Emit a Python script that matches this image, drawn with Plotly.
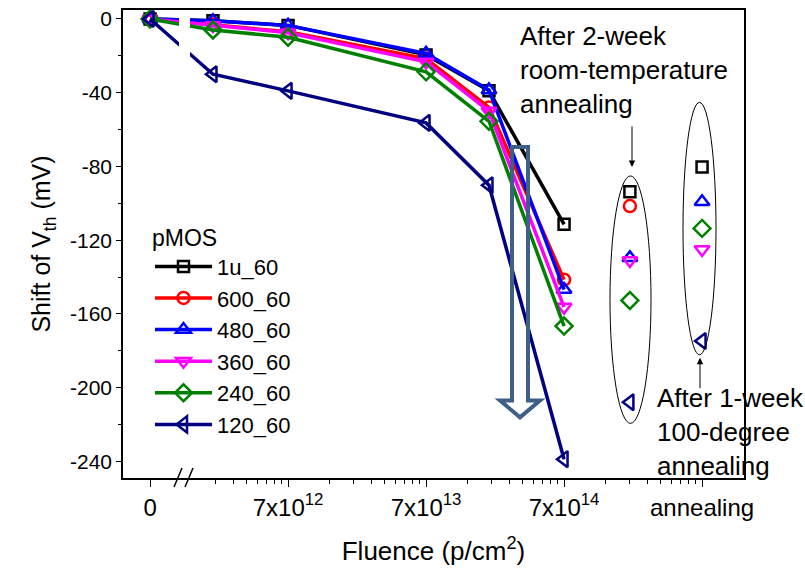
import plotly.graph_objects as go

# ---------------- data ----------------
# x positions on the log fluence axis; the first entry (7e11) is where the
# axis-broken "0" fluence point is drawn
fluence = [7e11, 2e12, 7e12, 7e13, 2e14, 7e14]
anneal_pos = [2.1e15, 7e15]  # "annealing" column positions

series_names = ["1u_60", "600_60", "480_60", "360_60", "240_60", "120_60"]
s_1u_60 = [0, -1.0, -3.5, -19.5, -39.0, -111.4]
s_600_60 = [0, -3.0, -7.0, -21.5, -48.0, -141.4]
s_480_60 = [0, -1.0, -3.5, -18.7, -38.5, -146.8]
s_360_60 = [0, -3.5, -7.5, -23.3, -50.0, -156.3]
s_240_60 = [0, -6.0, -9.9, -28.7, -55.5, -166.6]
s_120_60 = [0, -30.0, -39.0, -56.4, -90.2, -238.8]

# after 2-week room-temperature annealing, after 1-week 100-degree annealing
a_1u_60 = [-93.8, -80.3]
a_600_60 = [-101.5, None]
a_480_60 = [-129.5, -99.2]
a_360_60 = [-131.0, -125.0]
a_240_60 = [-152.7, -113.6]
a_120_60 = [-207.9, -174.7]

x_tickvals = [7e11, 7e12, 7e13, 7e14, 7e15]
x_ticktext = ["0", "7x10<sup>12</sup>", "7x10<sup>13</sup>", "7x10<sup>14</sup>", "annealing"]
y_tickvals = [0, -40, -80, -120, -160, -200, -240]
y_ticktext = ["0", "-40", "-80", "-120", "-160", "-200", "-240"]

colors = ["#000000", "#FF0000", "#0000FF", "#FF00FF", "#008000", "#000080"]
symbols = ["square-open", "circle-open", "triangle-up-open", "triangle-down-open",
           "diamond-open", "triangle-left-open"]
marker_sizes = [11, 12, 13, 13, 13, 14]

main_vals = [s_1u_60, s_600_60, s_480_60, s_360_60, s_240_60, s_120_60]
ann_vals = [a_1u_60, a_600_60, a_480_60, a_360_60, a_240_60, a_120_60]

# ---------------- geometry helpers (plot area in pixels) ----------------
L, R, T, B = 123, 744, 7, 478


def px(x):
    return (x - L) / (R - L)


def py(y):
    return (B - y) / (B - T)


FONT = "Liberation Sans, Arial, sans-serif"

fig = go.Figure()

for name, c, sym, ms, yv in zip(series_names, colors, symbols, marker_sizes, main_vals):
    fig.add_trace(go.Scatter(
        x=fluence, y=yv, name=name, mode="lines+markers",
        line=dict(color=c, width=3.5),
        marker=dict(symbol=sym, size=ms, color=c, line=dict(color=c, width=2.5)),
        legendgroup=name,
    ))

for name, c, sym, ms, yv in zip(series_names, colors, symbols, marker_sizes, ann_vals):
    fig.add_trace(go.Scatter(
        x=anneal_pos, y=yv, name=name, mode="markers", showlegend=False,
        marker=dict(symbol=sym, size=ms, color=c, line=dict(color=c, width=2.5)),
        legendgroup=name,
    ))

# minor ticks: 7e(n) * k
minor_vals = []
for d in [7e11, 7e12, 7e13, 7e14]:
    for k in range(2, 10):
        if d == 7e11 and k == 2:
            continue
        minor_vals.append(d * k)

shapes = []
# white gap for the axis break across the data lines
shapes.append(dict(type="rect", xref="paper", yref="paper",
                   x0=px(179), x1=px(190), y0=py(100), y1=py(8),
                   fillcolor="white", line=dict(width=0), layer="above"))
# break marks on the x axis
for x0 in (174, 185):
    shapes.append(dict(type="line", xref="paper", yref="paper",
                       x0=px(x0), y0=py(487), x1=px(x0 + 8), y1=py(468),
                       line=dict(color="black", width=1.5), layer="above"))
# ellipses around annealing points
shapes.append(dict(type="circle", xref="paper", yref="paper",
                   x0=px(610), x1=px(651), y0=py(423), y1=py(174),
                   line=dict(color="black", width=1)))
shapes.append(dict(type="circle", xref="paper", yref="paper",
                   x0=px(683), x1=px(716), y0=py(354), y1=py(100),
                   line=dict(color="black", width=1)))
# big hollow down arrow
pts = [(512, 145), (528, 145), (528, 400), (540, 400), (520, 417), (500, 400), (512, 400)]
path = "M " + " L ".join(f"{px(a):.5f},{py(b):.5f}" for a, b in pts) + " Z"
shapes.append(dict(type="path", xref="paper", yref="paper", path=path,
                   line=dict(color="#3F5E88", width=4), layer="above"))

annotations = [
    dict(xref="paper", yref="paper", x=px(518), y=py(16), xanchor="left", yanchor="top",
         align="left", showarrow=False,
         text="After 2-week<br>room-temperature<br>annealing",
         font=dict(family=FONT, size=26, color="black")),
    dict(xref="paper", yref="paper", x=px(655), y=py(380), xanchor="left", yanchor="top",
         align="left", showarrow=False,
         text="After 1-week<br>100-degree<br>annealing",
         font=dict(family=FONT, size=26, color="black")),
    dict(xref="paper", yref="paper", x=px(632), y=py(165), axref="pixel", ayref="pixel",
         ax=0, ay=-42, text="", showarrow=True, arrowhead=2, arrowsize=1.3,
         arrowwidth=1, arrowcolor="black"),
    dict(xref="paper", yref="paper", x=px(700), y=py(357), ax=0, ay=32, text="",
         showarrow=True, arrowhead=2, arrowsize=1.3, arrowwidth=1, arrowcolor="black"),
]

fig.update_layout(
    width=805, height=574,
    margin=dict(l=L, r=805 - R, t=T, b=574 - B),
    paper_bgcolor="white", plot_bgcolor="white",
    font=dict(family=FONT, color="black"),
    showlegend=True,
    legend=dict(x=px(150), y=py(214), xanchor="left", yanchor="top",
                bgcolor="rgba(0,0,0,0)", font=dict(family=FONT, size=22),
                title=dict(text="pMOS", font=dict(family=FONT, size=23)),
                itemwidth=57, tracegroupgap=0),
    shapes=shapes,
    annotations=annotations,
    xaxis=dict(
        type="log", range=[11.649, 16.149],
        tickmode="array", tickvals=x_tickvals, ticktext=x_ticktext,
        ticks="outside", ticklen=7, tickwidth=1, tickcolor="black",
        showline=True, linecolor="black", linewidth=1.5, mirror=True,
        showgrid=False, zeroline=False,
        tickfont=dict(family=FONT, size=24),
        minor=dict(tickmode="array", tickvals=minor_vals, ticks="outside",
                   ticklen=4, tickcolor="black", showgrid=False),
        title=dict(text="Fluence (p/cm<sup>2</sup>)", font=dict(family=FONT, size=26),
                   standoff=22),
    ),
    yaxis=dict(
        range=[-249, 4.85],
        tickmode="array", tickvals=y_tickvals, ticktext=y_ticktext,
        ticks="outside", ticklen=5, tickwidth=1, tickcolor="black",
        showline=True, linecolor="black", linewidth=1.5, mirror=True,
        showgrid=False, zeroline=False,
        tickfont=dict(family=FONT, size=21),
        minor=dict(dtick=20, tick0=0, ticks="outside", ticklen=3,
                   tickcolor="black", showgrid=False),
        title=dict(text="Shift of V<sub>th</sub> (mV)", font=dict(family=FONT, size=25),
                   standoff=12),
    ),
)

fig.write_html("out.html")
